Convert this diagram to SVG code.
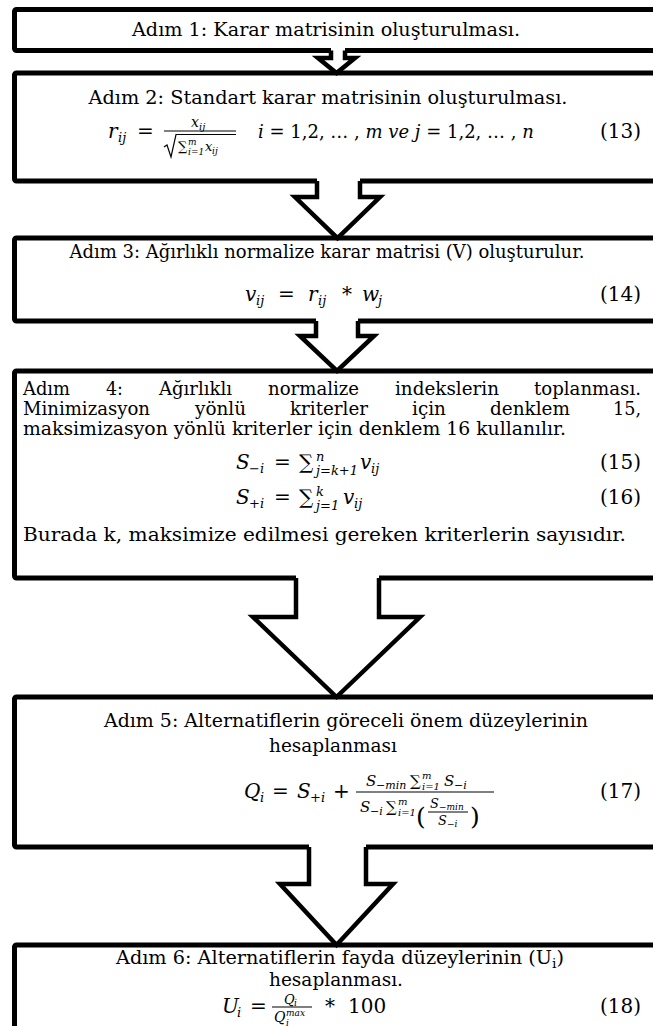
<svg xmlns="http://www.w3.org/2000/svg" width="653" height="1026" viewBox="0 0 653 1026">
<style>
.box{fill:#fff;stroke:#000;stroke-width:5;stroke-linejoin:round}
.af{fill:#fff;stroke:none}
.al{fill:none;stroke:#000;stroke-width:4.5;stroke-linejoin:miter;stroke-miterlimit:10}
text{font-family:"DejaVu Serif","Liberation Serif",serif;fill:#000}
.t{font-size:18px}
.q{font-size:20px}
.c{text-anchor:middle}
.e{text-anchor:end}
.m{font-size:20px;font-style:italic}
.mi{font-style:italic}
.s18{font-size:18px}
.s15{font-size:15px}
.s14{font-size:14px}
.s13{font-size:13px}
.s11{font-size:11px}
.s10{font-size:10px}
.s9{font-size:9px}
.rule{stroke:#000;stroke-width:1.2;fill:none}
</style>
<rect width="653" height="1026" fill="#fff"/>

<g id="step1">
<rect class="box" x="14.5" y="9.5" width="700" height="41" rx="2"/>
<text class="t c" x="326" y="36" textLength="388" lengthAdjust="spacingAndGlyphs">Adım 1: Karar matrisinin oluşturulması.</text>
</g>

<g id="step2">
<rect class="box" x="14.5" y="73" width="700" height="108" rx="2"/>
<text class="t c" x="328" y="104" textLength="479" lengthAdjust="spacingAndGlyphs">Adım 2: Standart karar matrisinin oluşturulması.</text>
<text class="m" x="108" y="138">r</text>
<text class="mi s13" x="118" y="142">ij</text>
<text class="q" x="137" y="138">=</text>
<text class="mi s14" x="191" y="127">x</text>
<text class="mi s10" x="199" y="130">ij</text>
<line class="rule" x1="164" y1="131" x2="236" y2="131"/>
<polyline class="rule" points="164,147 167,145 171,157 176,134.5 236,134.5"/>
<text class="s13" x="178" y="151">∑</text>
<text class="mi s9" x="188" y="145">m</text>
<text class="mi s9" x="188" y="155">i=1</text>
<text class="mi s13" x="205" y="151">x</text>
<text class="mi s9" x="212" y="154">ij</text>
<text class="s18" x="258" y="138"><tspan class="mi">i</tspan> = 1,2, … , <tspan class="mi">m ve j</tspan> = 1,2, … , <tspan class="mi">n</tspan></text>
<text class="q e" x="641" y="138">(13)</text>
</g>

<g id="step3">
<rect class="box" x="14.5" y="238" width="700" height="83" rx="2"/>
<text class="t c" x="327" y="258" textLength="515" lengthAdjust="spacingAndGlyphs">Adım 3: Ağırlıklı normalize karar matrisi (V) oluşturulur.</text>
<text class="m" x="245" y="301">v</text>
<text class="mi s13" x="256" y="305">ij</text>
<text class="q" x="278" y="301">=</text>
<text class="m" x="308" y="301">r</text>
<text class="mi s13" x="318" y="305">ij</text>
<text class="q" x="342" y="301">*</text>
<text class="m" x="362" y="301">w</text>
<text class="mi s13" x="378" y="305">j</text>
<text class="q e" x="641" y="301">(14)</text>
</g>

<g id="step4">
<rect class="box" x="14.5" y="371" width="700" height="207" rx="2"/>
<text class="t" x="23" y="395" textLength="47" lengthAdjust="spacingAndGlyphs">Adım</text>
<text class="t" x="106" y="395" textLength="17" lengthAdjust="spacingAndGlyphs">4:</text>
<text class="t" x="159" y="395" textLength="73" lengthAdjust="spacingAndGlyphs">Ağırlıklı</text>
<text class="t" x="268" y="395" textLength="91" lengthAdjust="spacingAndGlyphs">normalize</text>
<text class="t" x="395" y="395" textLength="104" lengthAdjust="spacingAndGlyphs">indekslerin</text>
<text class="t" x="534" y="395" textLength="107" lengthAdjust="spacingAndGlyphs">toplanması.</text>
<text class="t" x="23" y="415" textLength="127" lengthAdjust="spacingAndGlyphs">Minimizasyon</text>
<text class="t" x="195" y="415" textLength="51" lengthAdjust="spacingAndGlyphs">yönlü</text>
<text class="t" x="290" y="415" textLength="78" lengthAdjust="spacingAndGlyphs">kriterler</text>
<text class="t" x="412" y="415" textLength="34" lengthAdjust="spacingAndGlyphs">için</text>
<text class="t" x="490" y="415" textLength="80" lengthAdjust="spacingAndGlyphs">denklem</text>
<text class="t" x="613" y="415" textLength="28" lengthAdjust="spacingAndGlyphs">15,</text>
<text class="t" x="23" y="435" textLength="543" lengthAdjust="spacingAndGlyphs">maksimizasyon yönlü kriterler için denklem 16 kullanılır.</text>
<text class="m" x="236" y="469">S</text>
<text class="mi s13" x="249" y="473">−i</text>
<text class="q" x="274" y="469">=</text>
<text class="q" x="299" y="469">∑</text>
<text class="mi s13" x="316" y="461">n</text>
<text class="mi s13" x="316" y="475">j=k+1</text>
<text class="m" x="360" y="469">v</text>
<text class="mi s13" x="371" y="473">ij</text>
<text class="q e" x="641" y="469">(15)</text>
<text class="m" x="236" y="504">S</text>
<text class="mi s13" x="249" y="508">+i</text>
<text class="q" x="274" y="504">=</text>
<text class="q" x="299" y="504">∑</text>
<text class="mi s13" x="316" y="496">k</text>
<text class="mi s13" x="316" y="510">j=1</text>
<text class="m" x="343" y="504">v</text>
<text class="mi s13" x="354" y="508">ij</text>
<text class="q e" x="641" y="504">(16)</text>
<text class="t" x="23" y="541" textLength="603" lengthAdjust="spacingAndGlyphs">Burada k, maksimize edilmesi gereken kriterlerin sayısıdır.</text>
</g>

<g id="step5">
<rect class="box" x="14.5" y="697" width="700" height="150" rx="2"/>
<text class="t c" x="346" y="727" textLength="484" lengthAdjust="spacingAndGlyphs">Adım 5: Alternatiflerin göreceli önem düzeylerinin</text>
<text class="t c" x="333" y="752" textLength="128" lengthAdjust="spacingAndGlyphs">hesaplanması</text>
<text class="m" x="244" y="798">Q</text>
<text class="mi s13" x="260" y="802">i</text>
<text class="q" x="272" y="798">=</text>
<text class="m" x="297" y="798">S</text>
<text class="mi s13" x="310" y="802">+i</text>
<text class="q" x="333" y="798">+</text>
<line class="rule" x1="356" y1="792" x2="494" y2="792"/>
<text class="mi s15" x="366" y="786">S</text>
<text class="mi s11" x="376" y="789">−min</text>
<text class="s15" x="410" y="786">∑</text>
<text class="mi s10" x="422" y="779">m</text>
<text class="mi s10" x="422" y="790">i=1</text>
<text class="mi s15" x="444" y="786">S</text>
<text class="mi s11" x="454" y="789">−i</text>
<text class="mi s15" x="360" y="812">S</text>
<text class="mi s11" x="370" y="815">−i</text>
<text class="s15" x="386" y="812">∑</text>
<text class="mi s10" x="398" y="805">m</text>
<text class="mi s10" x="398" y="816">i=1</text>
<text style="font-size:25px" x="416" y="825">(</text>
<text class="mi s13" x="430" y="808">S</text>
<text class="mi s9" x="439" y="810">−min</text>
<line class="rule" x1="428" y1="812" x2="468" y2="812" style="stroke-width:1"/>
<text class="mi s13" x="438" y="825">S</text>
<text class="mi s9" x="447" y="827">−i</text>
<text style="font-size:25px" x="470" y="825">)</text>
<text class="q e" x="641" y="798">(17)</text>
</g>

<g id="step6">
<rect class="box" x="14.5" y="945" width="700" height="120" rx="2"/>
<text class="t c" x="340" y="964" textLength="448" lengthAdjust="spacingAndGlyphs">Adım 6: Alternatiflerin fayda düzeylerinin (U<tspan class="s13" dy="4">i</tspan><tspan dy="-4">)</tspan></text>
<text class="t c" x="336" y="986" textLength="134" lengthAdjust="spacingAndGlyphs">hesaplanması.</text>
<text class="m" x="222" y="1013">U</text>
<text class="mi s13" x="237" y="1017">i</text>
<text class="q" x="250" y="1013">=</text>
<line class="rule" x1="272" y1="1007" x2="312" y2="1007"/>
<text class="mi s13" x="284" y="1004">Q</text>
<text class="mi s9" x="294" y="1006">i</text>
<text class="mi s14" x="274" y="1022">Q</text>
<text class="mi s9" x="286" y="1016">max</text>
<text class="mi s9" x="286" y="1026">i</text>
<text class="q" x="325" y="1013">*</text>
<text class="q" x="348" y="1013">100</text>
<text class="q e" x="641" y="1013">(18)</text>
</g>

<g id="connectors">
<polygon class="af" points="331,47 331,58 318,58 336.5,73 355,58 345,58 345,47"/>
<polyline class="al" points="331,50.5 331,58 318,58 336.5,73 355,58 345,58 345,50.5"/>
<polygon class="af" points="317,178 317,197 295,197 337.5,238 380,197 360,197 360,178"/>
<polyline class="al" points="317,181 317,197 295,197 337.5,238 380,197 360,197 360,181"/>
<polygon class="af" points="316,318 316,336 300,336 337,371 374,336 358,336 358,318"/>
<polyline class="al" points="316,321 316,336 300,336 337,371 374,336 358,336 358,321"/>
<polygon class="af" points="296,575 296,617 253,617 336.5,697 420,617 379,617 379,575"/>
<polyline class="al" points="296,578 296,617 253,617 336.5,697 420,617 379,617 379,578"/>
<polygon class="af" points="309,844 309,884 280,884 336.5,945 393,884 366,884 366,844"/>
<polyline class="al" points="309,847 309,884 280,884 336.5,945 393,884 366,884 366,847"/>
</g>
</svg>
